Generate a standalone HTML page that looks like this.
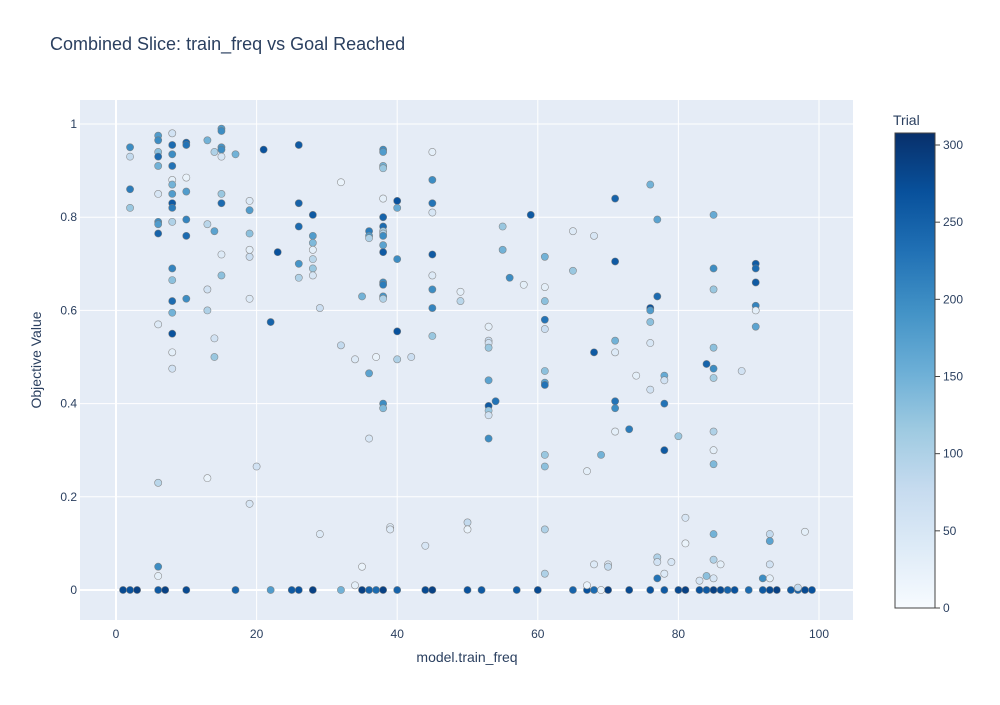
<!DOCTYPE html>
<html><head><meta charset="utf-8"><style>
body{margin:0;background:#fff;font-family:"Liberation Sans",sans-serif}
svg text{font-family:"Liberation Sans",sans-serif;fill:#2a3f5f}
</style></head><body>
<svg id="chart" width="1000" height="700" xmlns="http://www.w3.org/2000/svg">
<defs><linearGradient id="cb" x1="0" y1="1" x2="0" y2="0">
<stop offset="0" stop-color="rgb(247,251,255)"/><stop offset="0.125" stop-color="rgb(222,235,247)"/><stop offset="0.25" stop-color="rgb(198,219,239)"/><stop offset="0.375" stop-color="rgb(158,202,225)"/><stop offset="0.5" stop-color="rgb(107,174,214)"/><stop offset="0.625" stop-color="rgb(66,146,198)"/><stop offset="0.75" stop-color="rgb(33,113,181)"/><stop offset="0.875" stop-color="rgb(8,81,156)"/><stop offset="1" stop-color="rgb(8,48,107)"/></linearGradient></defs>
<text x="50" y="50" font-size="18">Combined Slice: train_freq vs Goal Reached</text>
<rect x="80" y="100" width="773" height="520" fill="#e5ecf6"/>
<g id="grid"></g><g id="pts"></g>
<text x="467" y="662" font-size="14" text-anchor="middle">model.train_freq</text>
<text transform="translate(41,360) rotate(-90)" font-size="14" text-anchor="middle">Objective Value</text>
<text x="893" y="125" font-size="14">Trial</text>
<rect x="895" y="133" width="40" height="475" fill="url(#cb)" stroke="#444" stroke-width="1"/>
<g id="cbt"></g>
</svg>
<script>
const xs=[1,2,3,6,7,10,17,22,25,26,28,32,35,36,37,38,40,44,45,50,52,57,60,65,67,68,70,73,76,78,80,81,83,84,85,86,87,88,90,92,93,94,96,97,98,99,
2,2,2,2,6,6,6,6,6,6,6,6,6,6,6,6,6,8,8,8,8,8,8,8,8,8,8,8,8,8,8,8,8,8,10,10,10,10,10,10,10,13,13,13,13,13,14,14,14,14,15,15,15,15,15,15,15,15,15,17,19,19,19,19,19,19,19,20,21,22,23,26,26,26,26,26,28,28,28,28,28,28,28,29,29,32,32,34,34,35,35,36,36,36,36,36,37,
38,38,38,38,38,38,38,38,38,38,38,38,38,38,38,38,38,38,39,39,40,40,40,40,40,42,44,45,45,45,45,45,45,45,45,45,49,49,50,50,53,53,53,53,53,53,53,53,53,54,55,55,56,58,59,
61,61,61,61,61,61,61,61,61,61,61,61,65,65,67,67,68,68,68,69,69,70,70,71,71,71,71,71,71,71,73,74,76,76,76,76,76,76,77,77,77,77,77,78,78,78,78,78,79,80,81,81,83,84,84,
85,85,85,85,85,85,85,85,85,85,85,85,86,89,91,91,91,91,91,91,92,93,93,93,93,97,98];
const ys=[0,0,0,0,0,0,0,0,0,0,0,0,0,0,0,0,0,0,0,0,0,0,0,0,0,0,0,0,0,0,0,0,0,0,0,0,0,0,0,0,0,0,0,0,0,0,
0.95,0.93,0.86,0.82,0.975,0.965,0.94,0.93,0.91,0.85,0.79,0.785,0.765,0.57,0.23,0.05,0.03,0.98,0.955,0.935,0.91,0.88,0.87,0.85,0.83,0.82,0.79,0.69,0.665,0.62,0.595,0.55,0.51,0.475,0.96,0.955,0.885,0.855,0.795,0.76,0.625,0.965,0.785,0.645,0.60,0.24,0.94,0.77,0.54,0.50,0.99,0.985,0.95,0.945,0.93,0.85,0.83,0.72,0.675,0.935,0.835,0.815,0.765,0.73,0.715,0.625,0.185,0.265,0.945,0.575,0.725,0.955,0.83,0.78,0.70,0.67,0.805,0.76,0.745,0.73,0.71,0.69,0.675,0.605,0.12,0.875,0.525,0.495,0.01,0.63,0.05,0.77,0.76,0.755,0.465,0.325,0.50,
0.945,0.94,0.91,0.905,0.84,0.80,0.78,0.77,0.765,0.76,0.74,0.725,0.66,0.655,0.63,0.625,0.40,0.39,0.135,0.13,0.835,0.82,0.71,0.555,0.495,0.50,0.095,0.94,0.88,0.83,0.81,0.72,0.675,0.645,0.605,0.545,0.64,0.62,0.145,0.13,0.565,0.535,0.53,0.52,0.45,0.395,0.385,0.375,0.325,0.405,0.78,0.73,0.67,0.655,0.805,
0.715,0.65,0.62,0.58,0.56,0.47,0.445,0.44,0.29,0.265,0.13,0.035,0.77,0.685,0.255,0.01,0.76,0.51,0.055,0.29,0.0,0.055,0.05,0.84,0.705,0.535,0.51,0.405,0.39,0.34,0.345,0.46,0.87,0.605,0.60,0.575,0.53,0.43,0.795,0.63,0.07,0.06,0.025,0.46,0.45,0.40,0.30,0.035,0.06,0.33,0.155,0.10,0.02,0.485,0.03,
0.805,0.69,0.645,0.52,0.475,0.455,0.34,0.30,0.27,0.12,0.065,0.025,0.055,0.47,0.70,0.69,0.66,0.61,0.60,0.565,0.025,0.12,0.105,0.055,0.025,0.005,0.125];
const trials=[280,270,290,260,290,280,250,180,260,270,290,150,290,250,240,290,250,280,290,270,260,260,280,250,270,240,290,280,270,260,280,290,270,260,290,280,250,270,240,260,280,290,260,250,280,270,
200,80,220,120,180,200,130,240,150,50,200,180,250,40,90,200,30,60,240,200,230,30,150,180,260,220,100,210,130,240,150,270,30,60,250,230,20,180,210,240,200,150,90,60,100,20,100,170,60,120,180,200,190,200,50,120,240,40,130,150,40,180,130,30,70,40,50,60,270,250,270,260,250,240,190,100,260,180,140,30,90,120,50,70,40,20,80,40,30,150,20,220,180,100,170,50,20,
200,180,150,120,30,250,240,110,100,200,170,260,200,220,190,100,200,140,40,40,270,160,200,270,100,70,50,30,200,230,50,260,40,200,210,120,30,90,80,20,30,70,60,120,170,260,120,60,200,230,120,150,200,30,260,
150,30,130,230,70,130,170,230,120,130,100,100,40,120,30,20,50,260,40,150,20,40,80,250,260,150,40,230,200,30,220,30,150,270,180,130,50,60,170,240,100,60,230,160,60,230,260,40,50,120,50,20,50,250,130,
160,200,120,130,200,110,100,30,140,150,100,50,30,60,260,240,260,210,30,170,200,80,170,60,30,80,30];
const xTicks=[0,20,40,60,80,100];
const yTicks=[0,0.2,0.4,0.6,0.8,1];
const cbTicks=[0,50,100,150,200,250,300];
const NS="http://www.w3.org/2000/svg";
const X=v=>116+v*7.03, Y=v=>590-v*466, C=v=>608-v*(463/300);
const stops=[[247,251,255],[222,235,247],[198,219,239],[158,202,225],[107,174,214],[66,146,198],[33,113,181],[8,81,156],[8,48,107]];
function col(t){let f=Math.min(1,Math.max(0,t/310))*8,i=Math.min(7,Math.floor(f)),r=f-i;const a=stops[i],b=stops[i+1];return `rgb(${a.map((c,k)=>Math.round(c+(b[k]-c)*r)).join(',')})`;}
function mk(tag,at,p){const e=document.createElementNS(NS,tag);for(const k in at)e.setAttribute(k,at[k]);p.appendChild(e);return e;}
const g=document.getElementById('grid');
xTicks.forEach(v=>{const l=mk('line',{x1:X(v),x2:X(v),y1:100,y2:620,stroke:'#fff','stroke-width':v===0?2:1},g);


const t=mk('text',{x:X(v),y:638,'font-size':12,'text-anchor':'middle'},g);t.textContent=v;

});
yTicks.forEach(v=>{const l=mk('line',{x1:80,x2:853,y1:Y(v),y2:Y(v),stroke:'#fff','stroke-width':v===0?2:1},g);


const t=mk('text',{x:77,y:Y(v)+4,'font-size':12,'text-anchor':'end'},g);t.textContent=v;

});
const p=document.getElementById('pts');
xs.forEach((x,i)=>{const c=mk('circle',{cx:X(x),cy:Y(ys[i]),r:3.6,fill:col(trials[i]),stroke:'rgba(120,120,120,0.8)','stroke-width':0.6},p);

});
const cg=document.getElementById('cbt');
cbTicks.forEach(v=>{mk('line',{x1:935,x2:940,y1:C(v),y2:C(v),stroke:'#444'},cg);
const t=mk('text',{x:943,y:C(v)+4,'font-size':12},cg);t.textContent=v;

});
</script>
</body></html>
